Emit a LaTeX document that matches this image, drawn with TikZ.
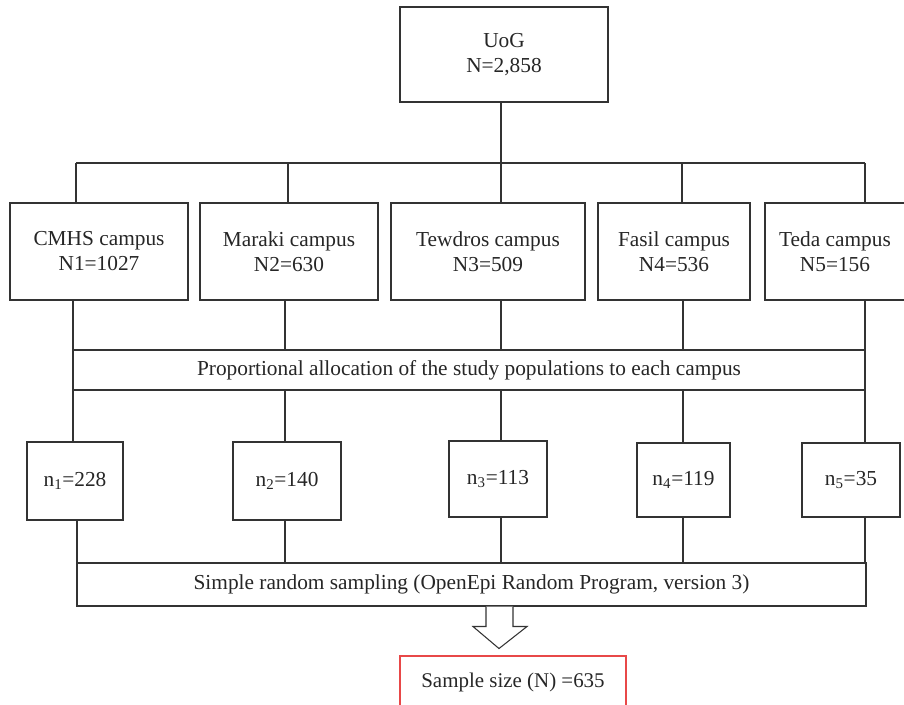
\documentclass[tikz,border=0pt]{standalone}
\usepackage{fontspec}
\setmainfont{Liberation Serif}
\usetikzlibrary{positioning,calc}
\definecolor{samplered}{RGB}{232,72,72}

\begin{document}
\begin{tikzpicture}[
    x=0.75pt, y=-0.75pt,
    box/.style={draw=black!80, line width=0.8pt, align=center, inner sep=0pt, text=black!85, font=\fontsize{16}{18.75}\selectfont},
    size/.style 2 args={minimum width=#1*0.75pt, minimum height=#2*0.75pt},
    wire/.style={draw=black!80, line width=0.8pt},
    result/.style={draw=samplered, line width=0.8pt, inner sep=0pt, text=black!85, font=\fontsize{15.7}{18.75}\selectfont}
]
\useasboundingbox (0,0) rectangle (904,705);

% === Top: university ===
\node[box, size={208}{95}] (uog) at (504,54.5) {UoG\\N=2,858};

% === Campuses ===
\node[box, size={178}{97}] (c1) at (99,251.5) {CMHS campus\\N1=1027};
\node[box, size={178}{97}] (c2) at (289,251.5) {Maraki campus\\N2=630};
\node[box, size={194}{97}] (c3) at (488,251.5) {Tewdros campus\\N3=509};
\node[box, size={152}{97}] (c4) at (674,251.5) {Fasil campus\\N4=536};
\node[box, size={140}{97}] (c5) at (835,251.5) {Teda campus\\N5=156};

% === Allocation ===
\node[box, size={792}{40}] (alloc) at (469,370) {Proportional allocation of the study populations to each campus};

% === Sample per campus ===
\node[box, size={96}{78}] (n1) at (75,481) {n\textsubscript{1}=228};
\node[box, size={108}{78}] (n2) at (287,481) {n\textsubscript{2}=140};
\node[box, size={98}{76}] (n3) at (498,479) {n\textsubscript{3}=113};
\node[box, size={93}{74}] (n4) at (683.5,480) {n\textsubscript{4}=119};
\node[box, size={98}{74}] (n5) at (851,480) {n\textsubscript{5}=35};

% === Sampling ===
\node[box, size={789}{43}] (srs) at (471.5,584.5) {Simple random sampling (OpenEpi Random Program, version 3)};

% === Final sample ===
\node[result, size={226}{52}] (sample) at (513,682) {Sample size (N) =635};

% bus positions
\coordinate (t1) at (76,163);
\coordinate (t2) at (288,163);
\coordinate (t3) at (501,163);
\coordinate (t4) at (682,163);
\coordinate (t5) at (865,163);
\coordinate (m1) at (73,0);
\coordinate (m2) at (285,0);
\coordinate (m3) at (501,0);
\coordinate (m4) at (683,0);
\coordinate (m5) at (865,0);
\coordinate (s1) at (77,0);
\coordinate (s2) at (285,0);
\coordinate (s3) at (501,0);
\coordinate (s4) at (683,0);
\coordinate (s5) at (865,0);

% UoG to campuses
\draw[wire] (uog.south -| t3) -- (t3);
\draw[wire] (t1) -- (t5);
\foreach \i in {1,...,5} {
    \draw[wire] (t\i) -- (t\i |- c\i.north);
    \draw[wire] (m\i |- c\i.south) -- (m\i |- alloc.north);
    \draw[wire] (m\i |- alloc.south) -- (m\i |- n\i.north);
    \draw[wire] (s\i |- n\i.south) -- (s\i |- srs.north);
}

% Block arrow
\draw[wire, fill=white] ($(srs.south -| sample.north)+(-27,0)$) -- ++(0,20) -- ++(-13,0) -- ++(26,22) -- ++(28,-22) -- ++(-14,0) -- ++(0,-20);

\end{tikzpicture}
\end{document}
